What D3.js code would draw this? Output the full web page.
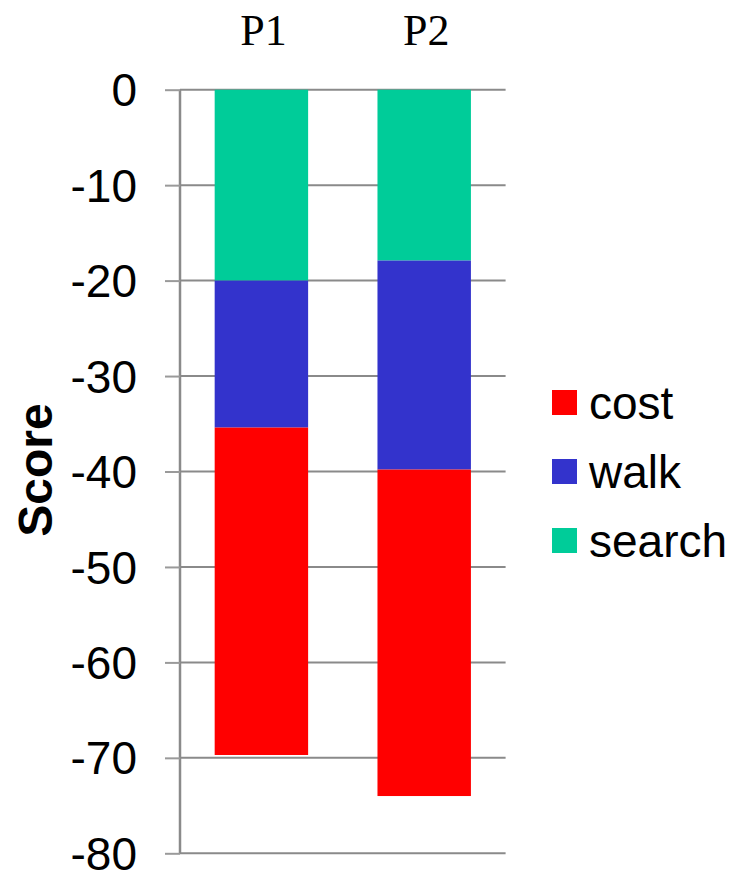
<!DOCTYPE html>
<html>
<head>
<meta charset="utf-8">
<script src="https://cdn.jsdelivr.net/npm/d3@7"></script>
<style>
  html, body { margin: 0; padding: 0; background: #fff; }
  svg { display: block; }
</style>
</head>
<body>
<script>
// Stacked negative scores per player
const categories = ["P1", "P2"];
const seriesNames = ["search", "walk", "cost"];   // stacking order from zero downward
const searchValues = [-20, -17.9];
const walkValues = [-15.4, -21.9];
const costValues = [-34.3, -34.2];
const yTicks = [0, -10, -20, -30, -40, -50, -60, -70, -80];
const legendOrder = ["cost", "walk", "search"];
const colors = { search: "#00CC99", walk: "#3333CC", cost: "#FF0000" };

const W = 735, H = 873;
const plot = { left: 180, right: 505.6, top: 89.7, bottom: 853.3 };

const svg = d3.select("body").append("svg").attr("width", W).attr("height", H);

const x = d3.scaleBand()
  .domain(categories)
  .range([plot.left, plot.right])
  .paddingInner(0.426)
  .paddingOuter(0.213);

const y = d3.scaleLinear().domain([-80, 0]).range([plot.bottom, plot.top]);

// Horizontal gridlines
svg.append("g")
  .selectAll("line")
  .data(yTicks)
  .join("line")
  .attr("x1", plot.left).attr("x2", plot.right)
  .attr("y1", d => y(d)).attr("y2", d => y(d))
  .attr("stroke", "#8a8a8a").attr("stroke-width", 2);

// Left axis with outward ticks; labels use a plain hyphen for the sign
const yAxis = d3.axisLeft(y).tickValues(yTicks).tickSize(15).tickPadding(28).tickFormat(d => String(d));
const ag = svg.append("g").attr("transform", `translate(${plot.left},0)`).call(yAxis);
ag.select(".domain").attr("stroke", "#8a8a8a").attr("stroke-width", 2.5).attr("d", `M0,${plot.top}V${plot.bottom}`);
ag.selectAll(".tick line").attr("stroke", "#9a9a9a").attr("stroke-width", 2);
ag.selectAll(".tick text")
  .attr("font-family", "Liberation Sans, Arial, sans-serif")
  .attr("font-size", 46)
  .attr("fill", "#000")
  .attr("dy", "0.35em");

// Stack the three components for each player
const rows = categories.map((c, i) => ({
  cat: c, search: searchValues[i], walk: walkValues[i], cost: costValues[i]
}));
const stacked = d3.stack().keys(seriesNames).offset(d3.stackOffsetDiverging)(rows);

svg.append("g")
  .selectAll("g")
  .data(stacked)
  .join("g")
  .attr("fill", s => colors[s.key])
  .selectAll("rect")
  .data(s => s)
  .join("rect")
  .attr("x", d => x(d.data.cat))
  .attr("width", x.bandwidth())
  .attr("y", d => y(Math.max(d[0], d[1])))
  .attr("height", d => Math.abs(y(d[0]) - y(d[1])));

// Category labels above the bars
svg.append("g")
  .selectAll("text")
  .data(categories)
  .join("text")
  .attr("x", d => x(d) + x.bandwidth() / 2 + 2)
  .attr("y", 45)
  .attr("text-anchor", "middle")
  .attr("font-family", "Liberation Serif, Times New Roman, serif")
  .attr("font-size", 44)
  .attr("fill", "#000")
  .text(d => d);

// Y axis title
svg.append("text")
  .attr("transform", "translate(52,470) rotate(-90)")
  .attr("text-anchor", "middle")
  .attr("font-family", "Liberation Sans, Arial, sans-serif")
  .attr("font-weight", "bold")
  .attr("font-size", 48)
  .attr("fill", "#000")
  .text("Score");

// Legend
const lg = svg.append("g")
  .selectAll("g")
  .data(legendOrder)
  .join("g")
  .attr("transform", (d, i) => `translate(552,${390 + i * 69})`);
lg.append("rect").attr("width", 25).attr("height", 25).attr("fill", d => colors[d]);
lg.append("text")
  .attr("x", 37)
  .attr("y", 12.5)
  .attr("dy", "0.36em")
  .attr("font-family", "Liberation Sans, Arial, sans-serif")
  .attr("font-size", 46)
  .attr("fill", "#000")
  .text(d => d);
</script>
</body>
</html>
